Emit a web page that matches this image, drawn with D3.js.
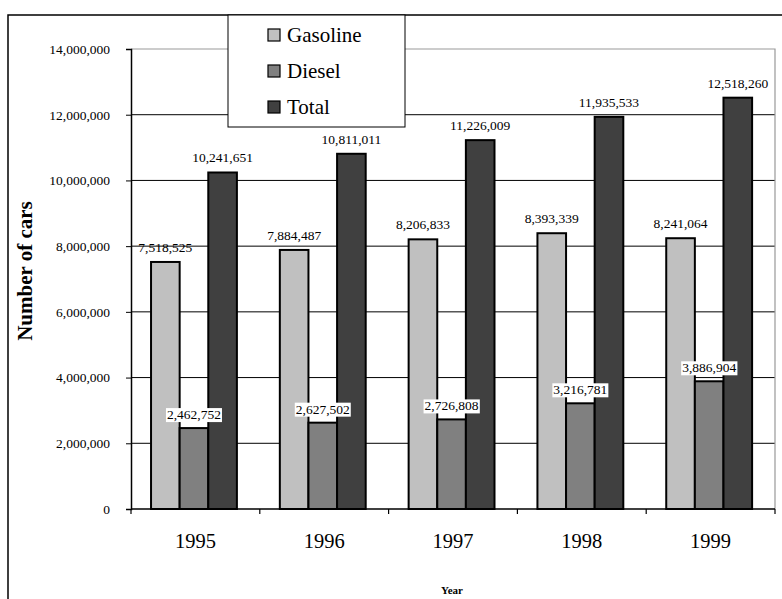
<!DOCTYPE html>
<html>
<head>
<meta charset="utf-8">
<script src="https://cdn.jsdelivr.net/npm/d3@7"></script>
<style>
  html, body { margin: 0; padding: 0; background: #fff; }
  svg { display: block; }
  svg text { font-family: "Liberation Serif", "Times New Roman", Times, serif !important; fill: #000; }
</style>
</head>
<body>
<svg id="chart" width="782" height="599" font-family="Liberation Serif, serif"></svg>
<script>
// Car registrations by fuel type, 1995–1999
const years = ["1995", "1996", "1997", "1998", "1999"];
const seriesNames = ["Gasoline", "Diesel", "Total"];
const gasoline = [7518525, 7884487, 8206833, 8393339, 8241064];
const diesel = [2462752, 2627502, 2726808, 3216781, 3886904];
const total = [10241651, 10811011, 11226009, 11935533, 12518260];
const yTicks = [0, 2000000, 4000000, 6000000, 8000000, 10000000, 12000000, 14000000];
const colors = ["#c0c0c0", "#808080", "#404040"];

const values = [gasoline, diesel, total];
const svg = d3.select("#chart");

const plot = { left: 131, right: 775, top: 49, bottom: 509 };

// Outer chart frame (cut off on the right and bottom)
svg.append("path")
  .attr("d", "M8,599 V15 H782")
  .attr("fill", "none").attr("stroke", "#000").attr("stroke-width", 1.5);

const x0 = d3.scaleBand().domain(years).range([plot.left, plot.right]).padding(0);
// bars occupy 3 of 4.5 slot widths within each category
const slot = x0.bandwidth() / 4.5;
const x1 = d3.scaleBand().domain(seriesNames)
  .range([slot * 0.7, slot * 0.7 + slot * 3]).padding(0);
const y = d3.scaleLinear().domain([0, 14000000]).range([plot.bottom, plot.top]);

// Gridlines
svg.append("g").selectAll("line")
  .data(yTicks.filter(d => d > 0 && d < 14000000))
  .join("line")
  .attr("x1", plot.left).attr("x2", plot.right)
  .attr("y1", d => y(d)).attr("y2", d => y(d))
  .attr("stroke", "#000").attr("stroke-width", 1);

// Plot area border (top/right in grey)
svg.append("path")
  .attr("d", `M${plot.left},${y(14000000)} H${plot.right} V${plot.bottom}`)
  .attr("fill", "none").attr("stroke", "#999").attr("stroke-width", 1.2);

// Bars
const groups = svg.append("g").selectAll("g")
  .data(years)
  .join("g")
  .attr("transform", d => `translate(${x0(d)},0)`);

groups.selectAll("rect")
  .data((yr, i) => seriesNames.map((s, k) => ({ s, k, v: values[k][i] })))
  .join("rect")
  .attr("x", d => x1(d.s))
  .attr("width", x1.bandwidth())
  .attr("y", d => y(d.v))
  .attr("height", d => y(0) - y(d.v))
  .attr("fill", d => colors[d.k])
  .attr("stroke", "#000").attr("stroke-width", 2);

// Value labels
const fmt = d3.format(",");
groups.each(function (yr, i) {
  const g = d3.select(this);
  seriesNames.forEach((s, k) => {
    const v = values[k][i];
    const cx = x1(s) + x1.bandwidth() / 2;
    const t = g.append("text")
      .attr("x", cx).attr("y", y(v) - (k === 1 ? 9 : 10))
      .attr("text-anchor", "middle")
      .attr("font-size", 13.5)
      .text(fmt(v));
    if (k === 1) {
      const bb = t.node().getBBox();
      g.insert("rect", () => t.node())
        .attr("x", bb.x - 1).attr("y", bb.y + 1)
        .attr("width", bb.width + 2).attr("height", bb.height - 1)
        .attr("fill", "#fff");
    }
  });
});

// Y axis
const yAxis = d3.axisLeft(y).tickValues(yTicks).tickSize(5).tickPadding(16)
  .tickFormat(d => d === 0 ? "0" : fmt(d));
const ya = svg.append("g").attr("transform", `translate(${plot.left},0)`).call(yAxis)
  .attr("font-family", "Liberation Serif, serif");
ya.select(".domain").attr("stroke", "#000").attr("stroke-width", 1.5);
ya.selectAll(".tick line").attr("stroke", "#000");
ya.selectAll(".tick text").attr("font-size", 13.5).attr("fill", "#000");

// X axis
const xa = svg.append("g").attr("transform", `translate(0,${plot.bottom})`);
xa.append("line").attr("x1", plot.left).attr("x2", plot.right)
  .attr("stroke", "#000").attr("stroke-width", 1.5);
xa.selectAll("line.tk")
  .data(d3.range(years.length + 1))
  .join("line").attr("class", "tk")
  .attr("x1", i => plot.left + i * x0.step()).attr("x2", i => plot.left + i * x0.step())
  .attr("y1", 0).attr("y2", 5)
  .attr("stroke", "#000").attr("stroke-width", 1.2);
xa.selectAll("text")
  .data(years)
  .join("text")
  .attr("x", d => x0(d) + x0.bandwidth() / 2)
  .attr("y", 39)
  .attr("text-anchor", "middle")
  .attr("font-size", 20.5)
  .text(d => d);

// Axis titles
svg.append("text")
  .attr("transform", `translate(32,271) rotate(-90)`)
  .attr("text-anchor", "middle")
  .attr("font-size", 21).attr("font-weight", "bold")
  .text("Number of cars");

svg.append("text")
  .attr("x", 452).attr("y", 594)
  .attr("text-anchor", "middle")
  .attr("font-size", 11).attr("font-weight", "bold")
  .text("Year");

// Legend
const legend = svg.append("g").attr("transform", "translate(228,15)");
legend.append("rect")
  .attr("width", 177).attr("height", 112)
  .attr("fill", "#fff").attr("stroke", "#000").attr("stroke-width", 1);
const items = legend.selectAll("g.item")
  .data(seriesNames)
  .join("g").attr("class", "item")
  .attr("transform", (d, i) => `translate(40,${20 + i * 36})`);
items.append("rect")
  .attr("x", 0).attr("y", -6).attr("width", 12).attr("height", 12)
  .attr("fill", (d, i) => colors[i]).attr("stroke", "#000").attr("stroke-width", 1.2);
items.append("text")
  .attr("x", 19).attr("y", 7)
  .attr("font-size", 21)
  .text(d => d);
</script>
</body>
</html>
